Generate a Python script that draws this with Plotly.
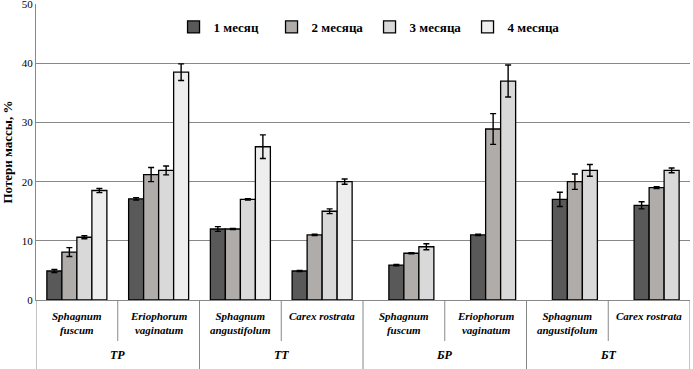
import plotly.graph_objects as go

species = ["Sphagnum<br>fuscum", "Eriophorum<br>vaginatum", "Sphagnum<br>angustifolum", "Carex rostrata",
           "Sphagnum<br>fuscum", "Eriophorum<br>vaginatum", "Sphagnum<br>angustifolum", "Carex rostrata"]
groups = ["ТР", "ТТ", "БР", "БТ"]
series_names = ["1 месяц", "2 месяца", "3 месяца", "4 месяца"]

m1 = [4.9, 17.1, 12.0, 4.9, 5.9, 11.0, 17.0, 16.0]
m2 = [8.1, 21.2, 12.0, 11.0, 7.9, 28.9, 20.0, 19.0]
m3 = [10.6, 21.9, 17.0, 15.0, 9.0, 37.0, 21.9, 21.9]
m4 = [18.5, 38.5, 25.9, 20.0, None, None, None, None]
e1 = [0.25, 0.2, 0.4, 0.1, 0.1, 0.1, 1.2, 0.6]
e2 = [0.75, 1.2, 0.1, 0.1, 0.1, 2.6, 1.3, 0.15]
e3 = [0.25, 0.75, 0.1, 0.4, 0.5, 2.7, 1.0, 0.4]
e4 = [0.35, 1.4, 2.0, 0.45, None, None, None, None]

colors = ["#595959", "#b0acaa", "#d9d9d9", "#eeeeee"]
values = [m1, m2, m3, m4]
errors = [e1, e2, e3, e4]

FONT = "Times New Roman, Liberation Serif, DejaVu Serif, serif"

W = 0.1835
fig = go.Figure()
for k in range(4):
    xs, ys, es = [], [], []
    for i in range(8):
        v = values[k][i]
        if v is None:
            continue
        slot = k if i < 4 else k + 1
        xs.append(i + 0.5 + (slot - 1.5) * W)
        ys.append(v)
        es.append(errors[k][i])
    fig.add_trace(go.Bar(
        x=xs, y=ys, width=W, name="<b>" + series_names[k] + "</b>",
        marker=dict(color=colors[k], line=dict(color="black", width=1.3)),
        error_y=dict(type="data", array=es, visible=True, color="black", thickness=1.4, width=3),
    ))

shapes = []
for b in range(9):
    full = b % 2 == 0
    shapes.append(dict(type="line", xref="x", yref="paper", x0=b, x1=b, y0=0,
                       y1=-69 / 296 if full else -41 / 296,
                       line=dict(color="#888888", width=1)))
annotations = []
for i, s in enumerate(species):
    annotations.append(dict(x=i + 0.5, y=-8 / 296, xref="x", yref="paper", text="<b><i>" + s + "</i></b>",
                            showarrow=False, yanchor="top",
                            font=dict(family=FONT, size=11, color="black")))
for g, name in enumerate(groups):
    annotations.append(dict(x=2 * g + 1, y=-55 / 296, xref="x", yref="paper", text="<b><i>" + name + "</i></b>",
                            showarrow=False, yanchor="middle",
                            font=dict(family=FONT, size=12, color="black")))

fig.update_layout(
    width=693, height=369,
    margin=dict(l=36, r=3, t=4, b=69),
    paper_bgcolor="white", plot_bgcolor="white",
    barmode="overlay",
    showlegend=True,
    font=dict(family=FONT),
    legend=dict(orientation="h", x=0.51, xanchor="center", y=1 - 23 / 296, yanchor="middle",
                font=dict(family=FONT, size=13, color="black"), itemwidth=30,
                entrywidth=53, entrywidthmode="pixels",
                bgcolor="rgba(0,0,0,0)", traceorder="normal"),
    xaxis=dict(range=[0, 8], showticklabels=False, showgrid=False, zeroline=False,
               showline=True, linecolor="#888888", linewidth=1, ticks="", automargin=False),
    yaxis=dict(range=[0, 50.02], tickvals=[0, 10, 20, 30, 40, 50], showgrid=True, gridcolor="#888888", gridwidth=1,
               zeroline=False, showline=True, linecolor="#888888", linewidth=1, automargin=False,
               ticks="", tickfont=dict(family=FONT, size=11, color="black"), ticklabeloverflow="allow",
               tickprefix="<b>", ticksuffix="</b>",
               title=dict(text="<b>Потери массы, %</b>", standoff=8,
                          font=dict(family=FONT, size=13, color="black"))),
    shapes=shapes, annotations=annotations,
)
fig.write_html("out.html", config={"displayModeBar": False},
               post_script="document.body.style.margin='0';document.body.style.padding='0';")
